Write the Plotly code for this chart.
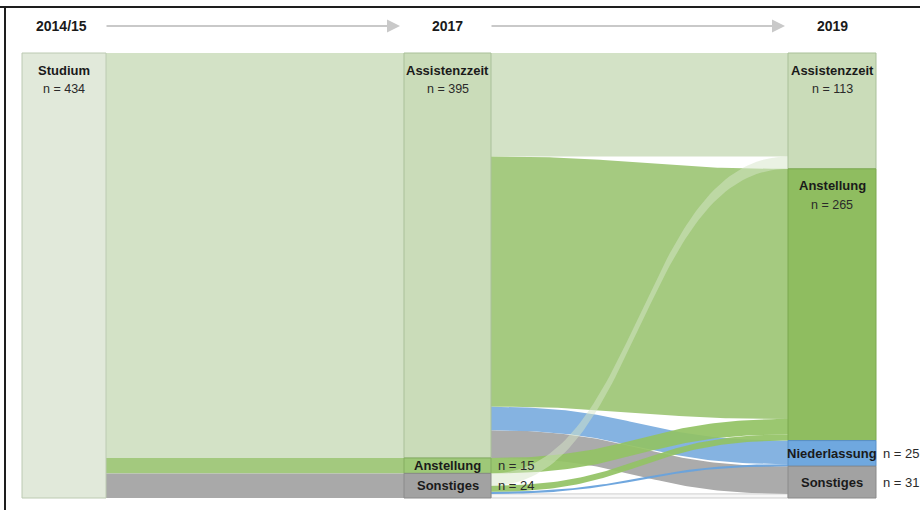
import numpy as np
import plotly.graph_objects as go

# ---------------- data ----------------
stage_labels = ["2014/15", "2017", "2019"]

nodes_2014 = ["Studium"]
values_2014 = [434]

nodes_2017 = ["Assistenzzeit", "Anstellung", "Sonstiges"]
values_2017 = [395, 15, 24]

nodes_2019 = ["Assistenzzeit", "Anstellung", "Niederlassung", "Sonstiges"]
values_2019 = [113, 265, 25, 31]

# flows 2014/15 -> 2017 (index into nodes_2014, index into nodes_2017, value)
flow1_src = [0, 0, 0]
flow1_tgt = [0, 1, 2]
flow1_val = [395, 15, 24]

# flows 2017 -> 2019 (index into nodes_2017, index into nodes_2019, value)
flow2_src = [0, 0, 0, 0, 2, 2, 1, 2, 2]
flow2_tgt = [0, 1, 3, 2, 3, 2, 1, 1, 0]
flow2_val = [101, 244, 27, 23, 4, 2, 15, 6, 12]

# ---------------- styling ----------------
TOTAL = sum(values_2014)
K = 445.0 / TOTAL          # pixels per person
TOP_PX = 53.0
col_x = [(22, 106), (404, 491), (788, 876)]

node_fill = [
    ["#e1e9da"],
    ["#cadcb9", "#9ec878", "#a2a2a2"],
    ["#cadcb9", "#8fbd60", "#6fa8df", "#a2a2a2"],
]
node_line = [
    ["#bccab2"],
    ["#a9c099", "#84ad60", "#8a8a8a"],
    ["#a9c099", "#7aa84e", "#5a90c6", "#8a8a8a"],
]
flow1_color = ["#d3e2c6", "#a3c97e", "#a9a9a9"]
flow2_color_by = {
    (0, 0): "#d3e2c6",
    (0, 1): "#a5ca80",
    (0, 2): "#85b3e1",
    (0, 3): "#ababab",
    (1, 1): "rgba(146,194,100,0.92)",
    (2, 0): "rgba(214,229,200,0.5)",
    (2, 1): "rgba(146,194,100,0.92)",
    (2, 2): "rgba(104,162,220,0.95)",
    (2, 3): "rgba(246,246,246,0.9)",
}

stages_nodes = [nodes_2014, nodes_2017, nodes_2019]
stages_vals = [values_2014, values_2017, values_2019]


def node_tops(vals):
    out, acc = [], 0
    for v in vals:
        out.append(acc)
        acc += v
    return out


tops = [node_tops(v) for v in stages_vals]


def link_offsets(src, tgt, val):
    order_src = sorted(range(len(val)), key=lambda i: (src[i], tgt[i]))
    order_tgt = sorted(range(len(val)), key=lambda i: (tgt[i], src[i]))
    so = [0] * len(val)
    to = [0] * len(val)
    acc = {}
    for i in order_src:
        so[i] = acc.get(src[i], 0)
        acc[src[i]] = so[i] + val[i]
    acc = {}
    for i in order_tgt:
        to[i] = acc.get(tgt[i], 0)
        acc[tgt[i]] = to[i] + val[i]
    return so, to


def band(x0, x1, s0, s1, t0, t1, n=80):
    t = np.linspace(0, 1, n)
    xm = (x0 + x1) / 2
    bx = (1 - t) ** 3 * x0 + 3 * (1 - t) ** 2 * t * xm + 3 * (1 - t) * t ** 2 * xm + t ** 3 * x1
    h0 = (1 - t) ** 3 + 3 * (1 - t) ** 2 * t
    h1 = 1 - h0
    top = s0 * h0 + t0 * h1
    bot = s1 * h0 + t1 * h1
    xs = np.concatenate([bx, bx[::-1], bx[:1]])
    ys = np.concatenate([top, bot[::-1], top[:1]])
    return xs, ys


fig = go.Figure()

# ---- flows stage 1 ----
so, to = link_offsets(flow1_src, flow1_tgt, flow1_val)
for i, v in enumerate(flow1_val):
    s = tops[0][flow1_src[i]] + so[i]
    t = tops[1][flow1_tgt[i]] + to[i]
    xs, ys = band(col_x[0][1], col_x[1][0], s, s + v, t, t + v)
    fig.add_trace(go.Scatter(x=xs, y=ys, mode="lines", fill="toself",
                             fillcolor=flow1_color[i], line=dict(width=0),
                             hoverinfo="skip"))

# ---- flows stage 2 ----
so, to = link_offsets(flow2_src, flow2_tgt, flow2_val)
for i, v in enumerate(flow2_val):
    s = tops[1][flow2_src[i]] + so[i]
    t = tops[2][flow2_tgt[i]] + to[i]
    xs, ys = band(col_x[1][1], col_x[2][0], s, s + v, t, t + v)
    key = (flow2_src[i], flow2_tgt[i])
    lw = 0.6 if key == (2, 3) else 0
    fig.add_trace(go.Scatter(x=xs, y=ys, mode="lines", fill="toself",
                             fillcolor=flow2_color_by[key],
                             line=dict(width=lw, color="#b0b0b0"),
                             hoverinfo="skip"))

# ---- nodes ----
for c, names in enumerate(stages_nodes):
    x0, x1 = col_x[c]
    for j, name in enumerate(names):
        y0 = tops[c][j]
        y1 = y0 + stages_vals[c][j]
        fig.add_trace(go.Scatter(x=[x0, x1, x1, x0, x0], y=[y0, y0, y1, y1, y0],
                                 mode="lines", fill="toself",
                                 fillcolor=node_fill[c][j],
                                 line=dict(width=1, color=node_line[c][j]),
                                 hoverinfo="skip"))

# ---- labels ----
annotations = []
BOLD = dict(family="Liberation Sans, Arial, sans-serif", size=13, color="#1a1a1a")
REG = dict(family="Liberation Sans, Arial, sans-serif", size=12.5, color="#2a2a2a")
for c, names in enumerate(stages_nodes):
    x0, x1 = col_x[c]
    xc = (x0 + x1) / 2
    for j, name in enumerate(names):
        v = stages_vals[c][j]
        y0 = tops[c][j]
        if v >= 60:
            annotations.append(dict(x=xc, y=y0, text="<b>%s</b>" % name, showarrow=False,
                                    yshift=-17, font=BOLD, xanchor="center", yanchor="middle"))
            annotations.append(dict(x=xc, y=y0, text="n = %d" % v, showarrow=False,
                                    yshift=-36, font=REG, xanchor="center", yanchor="middle"))
        else:
            yc = y0 + v / 2
            annotations.append(dict(x=xc, y=yc, text="<b>%s</b>" % name, showarrow=False,
                                    font=BOLD, xanchor="center", yanchor="middle"))
            annotations.append(dict(x=x1 + 5, y=yc, text="n = %d" % v, showarrow=False,
                                    font=dict(REG, size=13), xanchor="left", yanchor="middle"))

# headers
y_head = (26 - TOP_PX) / K
head_x = [61, (col_x[1][0] + col_x[1][1]) / 2, (col_x[2][0] + col_x[2][1]) / 2]
for c, lab in enumerate(stage_labels):
    annotations.append(dict(x=head_x[c], y=y_head, text="<b>%s</b>" % lab, showarrow=False,
                            font=dict(BOLD, size=14), xanchor="center", yanchor="middle"))
# arrows between headers
for (ax0, ax1) in [(105, 400), (490, 785)]:
    annotations.append(dict(x=ax1, y=y_head, ax=ax0, ay=y_head, axref="x", ayref="y",
                            xref="x", yref="y", text="", showarrow=True,
                            arrowhead=2, arrowsize=1.3, arrowwidth=2,
                            arrowcolor="#c9c9c9", standoff=0))

fig.update_layout(
    width=920, height=510,
    margin=dict(l=0, r=0, t=0, b=0),
    paper_bgcolor="white", plot_bgcolor="white",
    showlegend=False,
    xaxis=dict(range=[0, 920], visible=False, fixedrange=True),
    yaxis=dict(range=[(510 - TOP_PX) / K, -TOP_PX / K], visible=False, fixedrange=True),
    annotations=annotations,
    shapes=[
        dict(type="line", xref="paper", yref="paper", x0=0, x1=1,
             y0=1 - 7 / 510, y1=1 - 7 / 510, line=dict(color="#1e1e1e", width=2)),
        dict(type="line", xref="paper", yref="paper", x0=5 / 920, x1=5 / 920,
             y0=0, y1=1 - 7 / 510, line=dict(color="#1e1e1e", width=2)),
    ],
)

fig.write_html("out.html", config={"displayModeBar": False},
               post_script="document.body.style.margin='0px';")
